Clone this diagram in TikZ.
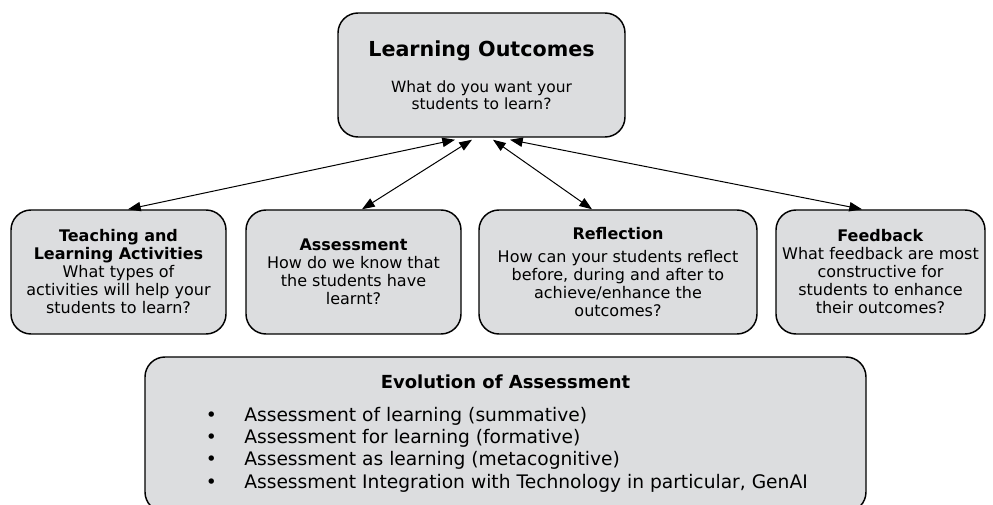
\documentclass[tikz,border=0pt]{standalone}
\usepackage{fontspec}
\setmainfont{DejaVu Sans}
\usepackage{xcolor}
\usepackage{tikz}
\usetikzlibrary{positioning,arrows.meta,calc}

\definecolor{boxgray}{RGB}{220,221,223}
\newcommand{\itembul}{\makebox[28.9pt][l]{\textbullet}}

\begin{document}
\begin{tikzpicture}[x=0.75pt,y=-0.75pt,
    box/.style={draw=black, line width=1.1pt, fill=boxgray, rounded corners=15pt,
        align=center, inner sep=0pt, font=\fontsize{12}{13.5}\selectfont},
    link/.style={{Triangle[length=9.5pt,width=7pt]}-{Triangle[length=9.5pt,width=7pt]}, line width=0.75pt}]
    \useasboundingbox (0,0) rectangle (993,505);

    % learning outcomes on top
    \node[box, minimum width=215.25pt, minimum height=93pt, font=\fontsize{11.6}{12.75}\selectfont] (outcomes) at (481.5,75)
        {{\fontsize{15.5}{18}\selectfont\bfseries Learning Outcomes}\\[14.5pt]What do you want your\\students to learn?};

    % the four boxes in the middle row
    \node[box, minimum width=161.25pt, minimum height=93pt] (tla) at (118.5,272)
        {\textbf{Teaching and}\\\textbf{Learning Activities}\\What types of\\activities will help your\\students to learn?};
    \node[box, minimum width=161.25pt, minimum height=93pt] (asm) at (353.5,272)
        {\textbf{Assessment}\\How do we know that\\the students have\\learnt?};
    \node[box, minimum width=208.5pt, minimum height=93pt] (refl) at (618,272)
        {\textbf{Reflection}\\[3.5pt]How can your students reflect\\before, during and after to\\achieve/enhance the\\outcomes?};
    \node[box, minimum width=156.75pt, minimum height=93pt] (fb) at (880.5,272)
        {\textbf{Feedback}\\What feedback are most\\constructive for\\students to enhance\\their outcomes?};

    \foreach \dst/\a/\b in {tla/-26.5/9.5, asm/-9.5/8.5, refl/11.5/-26, fb/28.5/-18.5}
        \draw[link] ([shift={(\a,2)}]outcomes.south) -- ([shift={(\b,0)}]\dst.north);

    % evolution of assessment
    \node[box, minimum width=540.75pt, minimum height=116.25pt] (evo) at (505.5,434.5) {};
    \node[font=\fontsize{13.5}{16}\selectfont\bfseries, inner sep=0pt] (evohead) at (505.5,382) {Evolution of Assessment};
    \node[align=left, anchor=west, inner sep=0pt, font=\fontsize{14}{16.75}\selectfont] (evolist) at (205.5,449.5)
        {\itembul Assessment of learning (summative)\\
         \itembul Assessment for learning (formative)\\
         \itembul Assessment as learning (metacognitive)\\
         \itembul Assessment Integration with Technology in particular, GenAI};
\end{tikzpicture}
\end{document}
